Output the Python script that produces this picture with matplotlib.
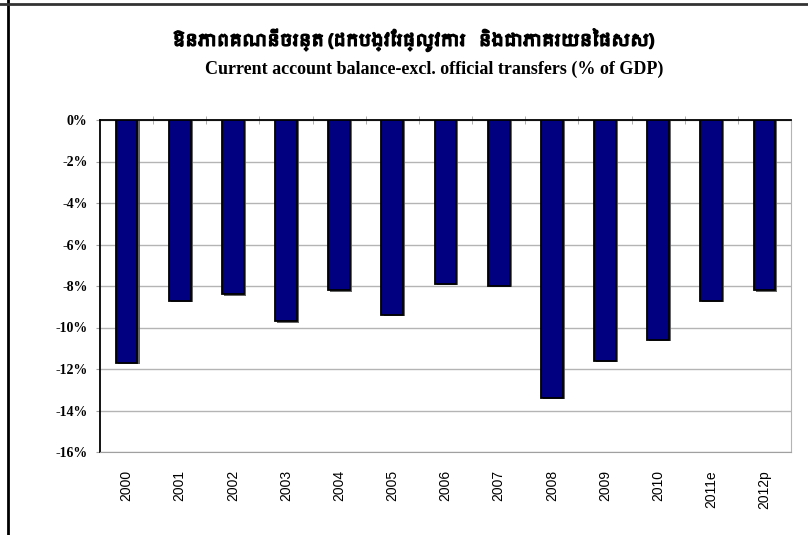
import matplotlib
matplotlib.use("Agg")
import matplotlib.pyplot as plt
import matplotlib.patheffects as pe
from matplotlib import font_manager
from matplotlib.lines import Line2D
from matplotlib.ticker import FuncFormatter, FixedLocator

years = ["2000", "2001", "2002", "2003", "2004", "2005", "2006",
         "2007", "2008", "2009", "2010", "2011e", "2012p"]
balance = [-11.7, -8.7, -8.4, -9.7, -8.2, -9.4, -7.9,
           -8.0, -13.4, -11.6, -10.6, -8.7, -8.2]

title_km = "ឱនភាពគណនីចរន្ត (ដកបង្វែរផ្លូវការ   និងជាភាគរយនៃផសស)"
title_en = "Current account balance-excl. official transfers (% of GDP)"

# any Khmer-capable font installed?
khmer = [f.name for f in font_manager.fontManager.ttflist if "Khmer" in f.name]
km_family = khmer[:1] + ["DejaVu Sans"]

fig = plt.figure(figsize=(8.08, 5.35), dpi=100)
ax = fig.add_axes([100/808, 1-452/535, 691/808, 332/535])

x = list(range(len(years)))
ax.bar(x, balance, width=0.41, color="#000080", edgecolor="black", linewidth=1.3,
       zorder=3,
       path_effects=[pe.SimplePatchShadow(offset=(1.5, -1.0), shadow_rgbFace="#555555", alpha=0.9),
                     pe.Normal()])

ax.set_xlim(-0.5, len(years) - 0.5)
ax.set_ylim(-16, 0)
ax.set_yticks(range(-16, 1, 2))
ax.yaxis.set_major_formatter(FuncFormatter(lambda v, p: f"{v:.0f}%"))
ax.grid(axis="y", color="#b4b4b4", linewidth=1, zorder=0)

ax.set_xticks(x)
ax.set_xticklabels(years, rotation=90, va="top", ha="center",
                   fontfamily="Liberation Sans", fontsize=10)
ax.xaxis.set_minor_locator(FixedLocator([i + 0.5 for i in x[:-1]]))
ax.tick_params(axis="x", which="major", length=0, pad=13)
ax.tick_params(axis="x", which="minor", bottom=False, top=True,
               direction="inout", length=6, color="#a0a0a0")
ax.tick_params(axis="y", length=3, color="#a0a0a0", pad=6)
for lab in ax.get_yticklabels():
    lab.set_fontfamily("Liberation Serif")
    lab.set_fontweight("bold")
    lab.set_fontsize(10)

ax.spines["top"].set_color("black")
ax.spines["top"].set_linewidth(1.3)
ax.spines["left"].set_color("black")
ax.spines["left"].set_linewidth(1.3)
ax.spines["right"].set_color("#b4b4b4")
ax.spines["bottom"].set_color("#a0a0a0")

fig.text(413/808, 1-40/535, title_km, ha="center", va="center",
         fontsize=12, fontweight="bold", family=km_family,
         path_effects=[pe.withStroke(linewidth=1.2, foreground="black")])
fig.text(434/808, 1-69/535, title_en, ha="center", va="center",
         fontsize=13, fontweight="bold", family="Liberation Serif")

# page frame lines
fig.add_artist(Line2D([8/808, 8/808], [0, 1], color="black", linewidth=2))
fig.add_artist(Line2D([0, 1], [1-3.5/535, 1-3.5/535], color="#333333", linewidth=2))

fig.savefig("out.png", dpi=100)
